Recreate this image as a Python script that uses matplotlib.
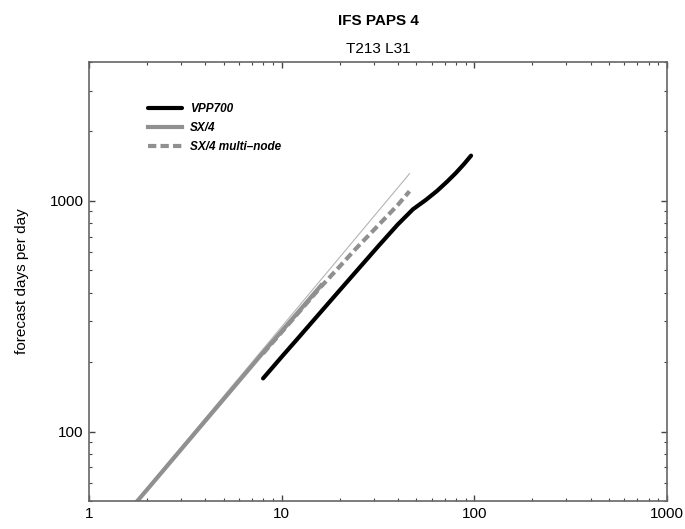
import matplotlib
matplotlib.use("Agg")
import matplotlib.pyplot as plt
from matplotlib.ticker import LogLocator, NullFormatter, FixedLocator, FixedFormatter

plt.rcParams['font.family'] = ['Liberation Sans', 'DejaVu Sans']

# processors vs forecast days per day
vpp_x = [8, 10, 12, 16, 20, 24, 32, 40, 48, 56, 64, 72, 80, 88, 96]
vpp_y = [170, 211, 251, 331, 410, 488, 642, 790, 920, 1010, 1105, 1210, 1320, 1440, 1570]

sx4_x = [1, 2, 4, 8, 12, 16]
sx4_y = [28.5, 56, 111, 220, 325, 430]

multi_x = [8, 12, 16, 20, 24, 32, 40, 46]
multi_y = [218, 322, 425, 520, 615, 790, 960, 1100]

ideal_x = [1, 46]
ideal_y = [28.5, 1311]

x_ticks = [1, 10, 100, 1000]
x_labels = ['1', '10', '100', '1000']
y_ticks = [100, 1000]
y_labels = ['100', '1000']

fig = plt.figure(figsize=(6.85, 5.29), dpi=100)
ax = fig.add_axes([0.130, 0.0529, 0.844, 0.830])

ax.plot(ideal_x, ideal_y, color='#b4b4b4', lw=0.8)
ax.plot(vpp_x, vpp_y, color='black', lw=3, label='VPP700', solid_capstyle='round')
ax.plot(sx4_x, sx4_y, color='#909090', lw=3, label='SX/4')
ax.plot(multi_x, multi_y, color='#909090', lw=3, dashes=(2, 1), label='SX/4 multi\u2013node')

ax.set_xscale('log')
ax.set_yscale('log')
ax.set_xlim(1, 1000)
ax.set_ylim(50, 4000)

ax.xaxis.set_major_locator(FixedLocator(x_ticks))
ax.xaxis.set_major_formatter(FixedFormatter(x_labels))
ax.yaxis.set_major_locator(FixedLocator(y_ticks))
ax.yaxis.set_major_formatter(FixedFormatter(y_labels))
ax.xaxis.set_minor_locator(LogLocator(base=10, subs=range(2, 10)))
ax.yaxis.set_minor_locator(LogLocator(base=10, subs=range(2, 10)))
ax.xaxis.set_minor_formatter(NullFormatter())
ax.yaxis.set_minor_formatter(NullFormatter())

ax.tick_params(which='both', direction='in', top=True, right=True, color='#444444')
ax.tick_params(which='major', length=4, width=1, labelsize=11, pad=4)
ax.tick_params(which='minor', length=2.5, width=0.8)
for s in ax.spines.values():
    s.set_color('#666666')
    s.set_linewidth(1.2)

ax.set_ylabel('forecast days per day', fontsize=11, labelpad=15)

leg = ax.legend(loc='upper left', bbox_to_anchor=(0.083, 0.93), frameon=False,
                prop={'size': 8.5, 'weight': 'bold', 'style': 'italic'},
                handlelength=2.9, handletextpad=0.7, labelspacing=0.6)

fig.text(0.552, 0.960, 'IFS PAPS 4', ha='center', va='center', fontsize=11, fontweight='bold')
fig.text(0.552, 0.907, 'T213 L31', ha='center', va='center', fontsize=11)

fig.savefig('out.png', dpi=100)
